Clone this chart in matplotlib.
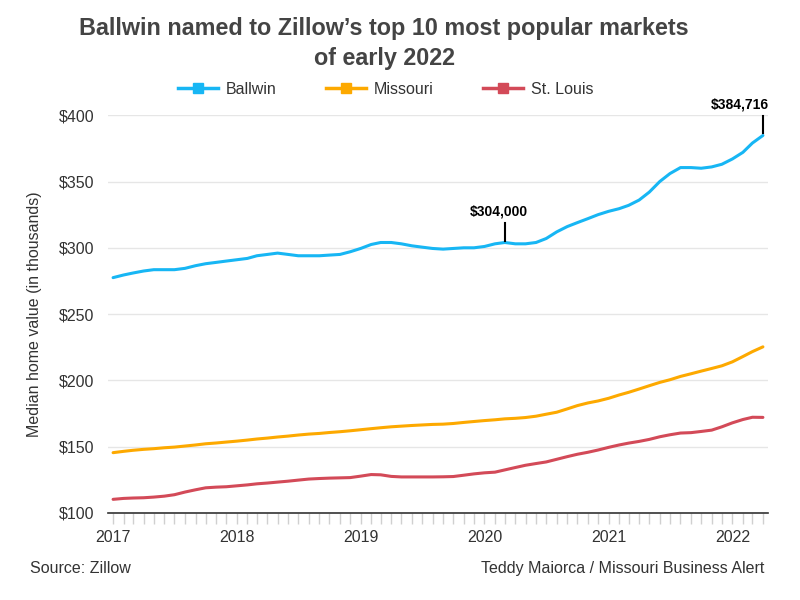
import numpy as np
import pandas as pd
import matplotlib
matplotlib.use("Agg")
import matplotlib.pyplot as plt
import matplotlib.dates as mdates
from matplotlib.lines import Line2D

plt.rcParams["font.family"] = ["Liberation Sans", "DejaVu Sans"]

# monthly median home values (thousands of $), Jan 2017 - Apr 2022
months = pd.date_range("2017-01-01", "2022-04-01", freq="MS")

ballwin = [
    277.5, 279.5, 281.0, 282.5, 283.5, 283.5, 283.5, 284.5, 286.5, 288.0, 289.0, 290.0,
    291.0, 292.0, 294.0, 295.0, 296.0, 295.0, 294.0, 294.0, 294.0, 294.5, 295.0, 297.0,
    299.5, 302.5, 304.0, 304.0, 303.0, 301.5, 300.5, 299.5, 299.0, 299.5, 300.0, 300.0,
    301.0, 303.0, 304.0, 303.0, 303.0, 304.0, 307.0, 312.0, 316.0, 319.0, 322.0, 325.0,
    327.5, 329.5, 332.0, 336.0, 342.0, 350.0, 356.0, 360.5, 360.5, 360.0, 361.0, 363.0,
    367.0, 372.0, 379.0, 384.716,
]
missouri = [
    145.5, 146.5, 147.3, 148.0, 148.5, 149.2, 149.7, 150.5, 151.3, 152.2, 152.8, 153.5,
    154.2, 155.0, 155.8, 156.5, 157.3, 158.0, 158.8, 159.5, 160.0, 160.7, 161.3, 162.0,
    162.8, 163.6, 164.3, 165.0, 165.5, 166.0, 166.4, 166.8, 167.0, 167.5, 168.3, 169.0,
    169.7, 170.3, 171.0, 171.4, 172.0, 173.0, 174.5, 176.0, 178.5, 181.0, 183.0, 184.5,
    186.5, 189.0, 191.0, 193.5, 196.0, 198.5, 200.5, 203.0, 205.0, 207.0, 209.0, 211.0,
    214.0, 218.0, 221.7, 225.3,
]
st_louis = [
    110.3, 111.0, 111.3, 111.5, 112.0, 112.7, 113.8, 115.8, 117.5, 119.0, 119.5, 119.8,
    120.5, 121.2, 122.0, 122.6, 123.3, 124.0, 124.8, 125.6, 126.0, 126.3, 126.5, 126.7,
    127.8, 129.0, 128.8, 127.6, 127.2, 127.2, 127.2, 127.2, 127.3, 127.5, 128.5, 129.5,
    130.3, 130.8, 132.5, 134.3, 136.0, 137.3, 138.5, 140.5, 142.5, 144.3, 145.8, 147.5,
    149.5, 151.3, 152.7, 154.0, 155.5, 157.5, 159.0, 160.3, 160.6, 161.5, 162.5, 165.0,
    168.0, 170.5, 172.2, 172.1,
]

series = [("Ballwin", ballwin, "#17b6f4"),
          ("Missouri", missouri, "#fda900"),
          ("St. Louis", st_louis, "#d34a58")]

fig = plt.figure(figsize=(8, 6), dpi=100)
ax = fig.add_axes([0.135, 0.145, 0.825, 0.663])

for name, vals, col in series:
    ax.plot(months, vals, color=col, lw=2.2, solid_capstyle="round",
            solid_joinstyle="round", zorder=3)

ax.set_ylim(100, 400)
ax.set_xlim(months[0] - pd.Timedelta(days=15), months[-1] + pd.Timedelta(days=15))
ax.set_yticks([100, 150, 200, 250, 300, 350, 400])
ax.set_yticklabels([f"${v}" for v in [100, 150, 200, 250, 300, 350, 400]])
ax.grid(axis="y", color="#e6e6e6", lw=1)
ax.set_axisbelow(True)

ax.xaxis.set_major_locator(mdates.YearLocator())
ax.xaxis.set_major_formatter(mdates.DateFormatter("%Y"))
ax.xaxis.set_minor_locator(mdates.MonthLocator())
ax.tick_params(axis="x", which="both", length=8, color="#d0d0d0", width=1,
               labelsize=11.5, labelcolor="#333333", pad=4)
ax.tick_params(axis="y", length=0, labelsize=11.5, labelcolor="#333333", pad=10)

for s in ["top", "right", "left"]:
    ax.spines[s].set_visible(False)
ax.spines["bottom"].set_color("#333333")
ax.spines["bottom"].set_linewidth(1.2)

ax.set_ylabel("Median home value (in thousands)", fontsize=11.5, color="#333333",
              labelpad=12)

# annotations: short vertical leader line with bold label above
for idx, label, ha, dx in [(38, "$304,000", "center", -4), (63, "$384,716", "right", 4)]:
    x = months[idx]
    y = ballwin[idx]
    ax.plot([x, x], [y + 1.5, y + 15], color="black", lw=1.5, clip_on=False, zorder=4)
    ax.annotate(label, xy=(x, y + 15), xytext=(dx, 3), textcoords="offset points",
                ha=ha, va="bottom", fontsize=10, fontweight="bold", color="black",
                annotation_clip=False)

fig.text(0.48, 0.972, "Ballwin named to Zillow\u2019s top 10 most popular markets\nof early 2022",
         ha="center", va="top", fontsize=16.8, fontweight="bold", color="#444444",
         linespacing=1.4)

handles = [Line2D([0], [0], color=c, lw=2.5, marker="s", markersize=7) for _, _, c in series]
fig.legend(handles, [n for n, _, _ in series], loc="center", bbox_to_anchor=(0.482, 0.851),
           ncol=3, frameon=False, fontsize=11.5, handlelength=2.5, handletextpad=0.5,
           columnspacing=3.1, labelcolor="#333333")

fig.text(0.038, 0.052, "Source: Zillow", fontsize=11.5, color="#333333", va="center")
fig.text(0.955, 0.052, "Teddy Maiorca / Missouri Business Alert", fontsize=11.5,
         color="#333333", va="center", ha="right")

fig.savefig("out.png", dpi=100)
